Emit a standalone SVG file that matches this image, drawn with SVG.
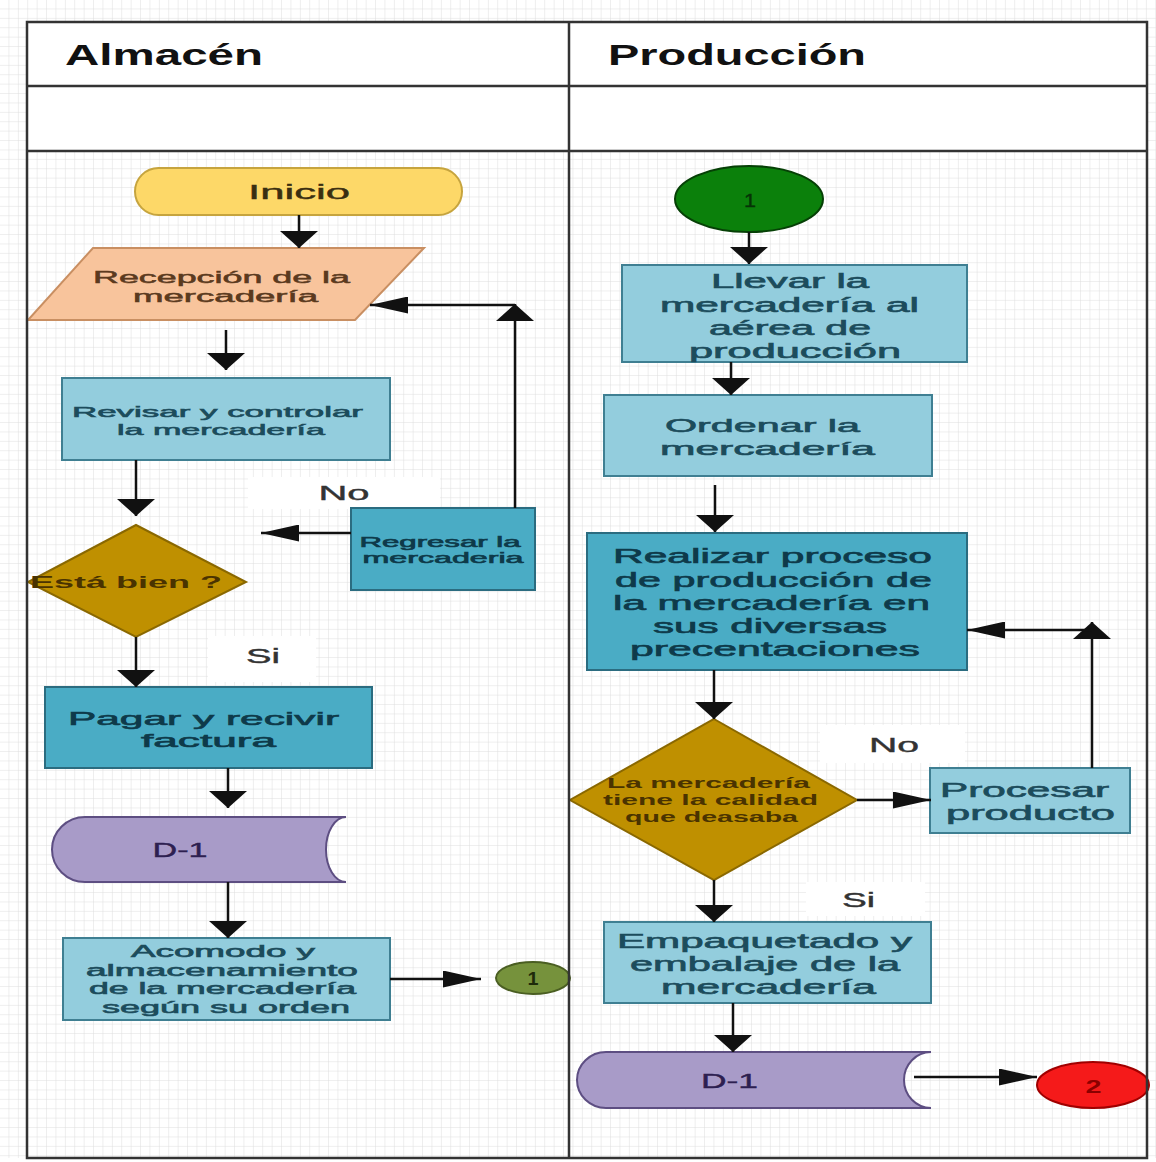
<svg xmlns="http://www.w3.org/2000/svg" width="1156" height="1162" viewBox="0 0 1156 1162">
<defs>
<pattern id="grid" width="9.4" height="9.4" patternUnits="userSpaceOnUse">
<path d="M9.4,0 V9.4 M0,9.4 H9.4" fill="none" stroke="#dedede" stroke-width="1"/>
</pattern>
<marker id="mV" viewBox="0 0 17 38" refX="17" refY="19" markerWidth="17" markerHeight="38" markerUnits="userSpaceOnUse" orient="auto">
<path d="M0,0 L17,19 L0,38 z" fill="#111"/>
</marker>
<marker id="mH" viewBox="0 0 38 17" refX="38" refY="8.5" markerWidth="38" markerHeight="17" markerUnits="userSpaceOnUse" orient="auto">
<path d="M0,0 L38,8.5 L0,17 z" fill="#111"/>
</marker>
</defs>
<style>
text { font-family: "Liberation Sans", Arial, sans-serif; text-anchor: middle; }
.hdr { font-size: 30px; font-weight: bold; fill: #111; }
.lb { fill: #93cddd; stroke: #3f7f92; stroke-width: 2; }
.mb { fill: #4aacc5; stroke: #2b6c80; stroke-width: 2; }
.dia { fill: #bf9000; stroke: #8a6800; stroke-width: 2; }
.doc { fill: #a89bc8; stroke: #5d4e82; stroke-width: 2; }
.tb { fill: #1c4c5c; stroke: #1c4c5c; stroke-width: 0.6; }
.tm { fill: #0e3a4a; stroke: #0e3a4a; stroke-width: 0.6; }
.lbl { font-size: 20px; fill: #333; stroke: #333; stroke-width: 0.4; }
.conn path { fill: none; stroke: #111; stroke-width: 2.5; }
.v { marker-end: url(#mV); }
.h { marker-end: url(#mH); }
.frame { fill: none; stroke: #333; stroke-width: 2.5; }
</style>

<rect x="0" y="0" width="1156" height="1162" fill="#ffffff"/>
<rect x="0" y="0" width="1156" height="1158" fill="url(#grid)"/>
<rect x="27" y="22" width="1120" height="129" fill="#ffffff"/>

<g id="header">
<text class="hdr" x="164" y="65" textLength="198" lengthAdjust="spacingAndGlyphs">Almacén</text>
<text class="hdr" x="737" y="65" textLength="258" lengthAdjust="spacingAndGlyphs">Producción</text>
</g>

<g id="labels">
<rect x="248" y="477" width="192" height="32" fill="#fff"/>
<text class="lbl" x="344" y="500" textLength="51" lengthAdjust="spacingAndGlyphs">No</text>
<rect x="208" y="636" width="108" height="46" fill="#fff"/>
<text class="lbl" x="263" y="663" textLength="34" lengthAdjust="spacingAndGlyphs">Si</text>
<rect x="820" y="725" width="145" height="38" fill="#fff"/>
<text class="lbl" x="894" y="752" textLength="50" lengthAdjust="spacingAndGlyphs">No</text>
<rect x="806" y="882" width="119" height="34" fill="#fff"/>
<text class="lbl" x="858.5" y="907" textLength="33" lengthAdjust="spacingAndGlyphs">Si</text>
</g>

<g id="inicio">
<rect x="135" y="168" width="327" height="47" rx="23.5" fill="#fdd868" stroke="#c6a43e" stroke-width="2"/>
<text x="299" y="199" font-size="21" fill="#3a2e10" stroke="#3a2e10" stroke-width="0.4" textLength="102" lengthAdjust="spacingAndGlyphs">Inicio</text>
</g>

<g id="recepcion">
<polygon points="93,248 424,248 355,320 28,320" fill="#f8c49c" stroke="#c98f62" stroke-width="2"/>
<text x="221.5" y="283" font-size="16" fill="#5b3a1e" stroke="#5b3a1e" stroke-width="0.5" textLength="257" lengthAdjust="spacingAndGlyphs">Recepción de la</text>
<text x="225.5" y="302" font-size="16" fill="#5b3a1e" stroke="#5b3a1e" stroke-width="0.5" textLength="185" lengthAdjust="spacingAndGlyphs">mercadería</text>
</g>

<g id="revisar">
<rect class="lb" x="62" y="378" width="328" height="82"/>
<text class="tb" x="217.5" y="417" font-size="15.5" textLength="291" lengthAdjust="spacingAndGlyphs">Revisar y controlar</text>
<text class="tb" x="221" y="435" font-size="15.5" textLength="208" lengthAdjust="spacingAndGlyphs">la mercadería</text>
</g>

<g id="esta-bien">
<polygon class="dia" points="136,525 246,582 136,637 28,582"/>
<text x="126" y="588" font-size="17" font-weight="bold" fill="#4a3300" textLength="192" lengthAdjust="spacingAndGlyphs">Está bien ?</text>
</g>

<g id="regresar">
<rect class="mb" x="351" y="508" width="184" height="82"/>
<text class="tm" x="440" y="547" font-size="14" textLength="161" lengthAdjust="spacingAndGlyphs">Regresar la</text>
<text class="tm" x="443" y="563" font-size="14" textLength="161" lengthAdjust="spacingAndGlyphs">mercaderia</text>
</g>

<g id="pagar">
<rect class="mb" x="45" y="687" width="327" height="81"/>
<text class="tm" x="203.5" y="725" font-size="19" textLength="271" lengthAdjust="spacingAndGlyphs">Pagar y recivir</text>
<text class="tm" x="208.5" y="747" font-size="19" textLength="135" lengthAdjust="spacingAndGlyphs">factura</text>
</g>

<g id="d1-almacen">
<path class="doc" d="M85,817 H346 A20,32.5 0 0 0 346,882 H85 A33,32.5 0 0 1 85,817 Z"/>
<text x="180" y="857" font-size="20" fill="#2d2050" stroke="#2d2050" stroke-width="0.4" textLength="55" lengthAdjust="spacingAndGlyphs">D-1</text>
</g>

<g id="acomodo">
<rect class="lb" x="63" y="938" width="327" height="82"/>
<text class="tb" x="223" y="957" font-size="16" textLength="184" lengthAdjust="spacingAndGlyphs">Acomodo y</text>
<text class="tb" x="222" y="975.5" font-size="16" textLength="272" lengthAdjust="spacingAndGlyphs">almacenamiento</text>
<text class="tb" x="222.5" y="994" font-size="16" textLength="267" lengthAdjust="spacingAndGlyphs">de la mercadería</text>
<text class="tb" x="226" y="1013" font-size="16" textLength="248" lengthAdjust="spacingAndGlyphs">según su orden</text>
</g>

<g id="conector-1-salida">
<ellipse cx="533" cy="978" rx="37" ry="16" fill="#76923c" stroke="#4a5e22" stroke-width="2"/>
<text x="533" y="985" font-size="18" font-weight="bold" fill="#1e2a0a" textLength="11" lengthAdjust="spacingAndGlyphs">1</text>
</g>

<g id="conector-1-entrada">
<ellipse cx="749" cy="199" rx="74" ry="33" fill="#0b800b" stroke="#064006" stroke-width="2"/>
<text x="750" y="207" font-size="19" fill="#063306" stroke="#063306" stroke-width="0.4" textLength="12" lengthAdjust="spacingAndGlyphs">1</text>
</g>

<g id="llevar">
<rect class="lb" x="622" y="265" width="345" height="97"/>
<text class="tb" x="790" y="288" font-size="19.5" textLength="158" lengthAdjust="spacingAndGlyphs">Llevar la</text>
<text class="tb" x="789.5" y="311.5" font-size="19.5" textLength="259" lengthAdjust="spacingAndGlyphs">mercadería al</text>
<text class="tb" x="790" y="335" font-size="19.5" textLength="162" lengthAdjust="spacingAndGlyphs">aérea de</text>
<text class="tb" x="795" y="358" font-size="19.5" textLength="212" lengthAdjust="spacingAndGlyphs">producción</text>
</g>

<g id="ordenar">
<rect class="lb" x="604" y="395" width="328" height="81"/>
<text class="tb" x="762.5" y="432" font-size="19" textLength="195" lengthAdjust="spacingAndGlyphs">Ordenar la</text>
<text class="tb" x="767.5" y="455" font-size="19" textLength="215" lengthAdjust="spacingAndGlyphs">mercadería</text>
</g>

<g id="realizar">
<rect class="mb" x="587" y="533" width="380" height="137"/>
<text class="tm" x="772.5" y="563" font-size="19.5" textLength="319" lengthAdjust="spacingAndGlyphs">Realizar proceso</text>
<text class="tm" x="773.5" y="586.5" font-size="19.5" textLength="317" lengthAdjust="spacingAndGlyphs">de producción de</text>
<text class="tm" x="771.5" y="610" font-size="19.5" textLength="317" lengthAdjust="spacingAndGlyphs">la mercadería en</text>
<text class="tm" x="770" y="633" font-size="19.5" textLength="234" lengthAdjust="spacingAndGlyphs">sus diversas</text>
<text class="tm" x="775" y="656" font-size="19.5" textLength="290" lengthAdjust="spacingAndGlyphs">precentaciones</text>
</g>

<g id="calidad">
<polygon class="dia" points="714,719 857,800 714,880 570,800"/>
<text x="708.5" y="788" font-size="14" font-weight="bold" fill="#4a3300" textLength="203" lengthAdjust="spacingAndGlyphs">La mercadería</text>
<text x="710.5" y="805" font-size="14" font-weight="bold" fill="#4a3300" textLength="215" lengthAdjust="spacingAndGlyphs">tiene la calidad</text>
<text x="711.5" y="822" font-size="14" font-weight="bold" fill="#4a3300" textLength="173" lengthAdjust="spacingAndGlyphs">que deasaba</text>
</g>

<g id="procesar">
<rect class="lb" x="930" y="768" width="200" height="65"/>
<text class="tb" x="1024.5" y="797" font-size="19.5" textLength="169" lengthAdjust="spacingAndGlyphs">Procesar</text>
<text class="tb" x="1030.5" y="820" font-size="19.5" textLength="169" lengthAdjust="spacingAndGlyphs">producto</text>
</g>

<g id="empaquetado">
<rect class="lb" x="604" y="922" width="327" height="81"/>
<text class="tb" x="764.5" y="948" font-size="19.5" textLength="295" lengthAdjust="spacingAndGlyphs">Empaquetado y</text>
<text class="tb" x="765" y="971" font-size="19.5" textLength="270" lengthAdjust="spacingAndGlyphs">embalaje de la</text>
<text class="tb" x="768.5" y="994" font-size="19.5" textLength="215" lengthAdjust="spacingAndGlyphs">mercadería</text>
</g>

<g id="d1-produccion">
<path class="doc" d="M606,1052 H931 A27,28 0 0 0 931,1108 H606 A29,28 0 0 1 606,1052 Z"/>
<text x="729.5" y="1088" font-size="20" fill="#2d2050" stroke="#2d2050" stroke-width="0.4" textLength="57" lengthAdjust="spacingAndGlyphs">D-1</text>
</g>

<g id="conector-2">
<ellipse cx="1093" cy="1085" rx="56" ry="23" fill="#f51a1a" stroke="#a00000" stroke-width="2"/>
<text x="1093.5" y="1093" font-size="18" font-weight="bold" fill="#8b0000" textLength="16" lengthAdjust="spacingAndGlyphs">2</text>
</g>

<g id="connectors" class="conn">
<path class="v" d="M299,215 V248"/>
<path class="v" d="M226,330 V370"/>
<path class="v" d="M136,460 V516"/>
<path class="h" d="M351,533 H261"/>
<path class="v" d="M515,508 V304"/>
<path class="h" d="M515,305 H370"/>
<path class="v" d="M136,637 V687"/>
<path class="v" d="M228,768 V808"/>
<path class="v" d="M228,882 V938"/>
<path class="h" d="M390,979 H481"/>
<path class="v" d="M749,232 V264"/>
<path class="v" d="M731,362 V395"/>
<path class="v" d="M715,485 V532"/>
<path class="v" d="M714,670 V719"/>
<path class="h" d="M857,800 H931"/>
<path class="v" d="M1092,768 V622"/>
<path class="h" d="M1092,630 H967"/>
<path class="v" d="M714,880 V922"/>
<path class="v" d="M733,1003 V1052"/>
<path class="h" d="M914,1077 H1037"/>
</g>

<g id="lanes">
<rect class="frame" x="27" y="22" width="1120" height="1136"/>
<path class="frame" d="M569,22 V1158 M27,86 H1147 M27,151 H1147"/>
</g>
</svg>
